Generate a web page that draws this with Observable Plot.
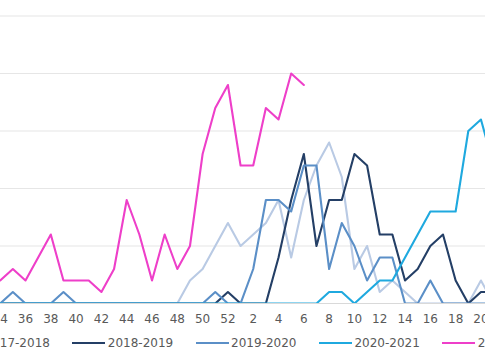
<!DOCTYPE html>
<html>
<head>
<meta charset="utf-8">
<script src="https://cdn.jsdelivr.net/npm/d3@7"></script>
<script src="https://cdn.jsdelivr.net/npm/@observablehq/plot@0.6"></script>
<style>
  html, body { margin: 0; padding: 0; background: #fff; }
  #wrap { position: relative; width: 485px; height: 360px; overflow: hidden; font-family: "DejaVu Sans", sans-serif; }
  #chart svg { display: block; }
  .sw { position: absolute; height: 2px; width: 33px; top: 342px; }
  .lt { position: absolute; top: 336px; font-size: 12px; line-height: 14px; color: #595959; white-space: nowrap; }
</style>
</head>
<body>
<div id="wrap">
  <div id="chart"></div>
  <div id="legend"></div>
</div>
<script>
// Week numbers along the x axis (one entry per data point)
const weeks = [34,35,36,37,38,39,40,41,42,43,44,45,46,47,48,49,50,51,52,1,2,3,4,5,6,7,8,9,10,11,12,13,14,15,16,17,18,19,20,21];

const seasons = ["2017-2018", "2018-2019", "2019-2020", "2020-2021", "2021-2022"];
const colors  = ["#b9cae4", "#243f66", "#5b8fc7", "#1fa9df", "#ee3fc9"];

const s2017 = [0,0,0,0,0,0,0,0,0,0,0,0,0,0,0,2,3,5,7,5,6,7,9,4,9,12,14,11,3,5,1,2,1,0,0,0,0,0,2,0];
const s2018 = [0,0,0,0,0,0,0,0,0,0,0,0,0,0,0,0,0,0,1,0,0,0,4,9,13,5,9,9,13,12,6,6,2,3,5,6,2,0,1,1];
const s2019 = [0,1,0,0,0,1,0,0,0,0,0,0,0,0,0,0,0,1,0,0,3,9,9,8,12,12,3,7,5,2,4,4,0,0,2,0,0,0,0,0];
const s2020 = [0,0,0,0,0,0,0,0,0,0,0,0,0,0,0,0,0,0,0,0,0,0,0,0,0,0,1,1,0,1,2,2,4,6,8,8,8,15,16,12];
const s2021 = [2,3,2,4,6,2,2,2,1,3,9,6,2,6,3,5,13,17,19,12,12,17,16,20,19];

const yGrid = [5, 10, 15, 20, 25];

const seriesList = [s2017, s2018, s2019, s2020, s2021];
const rows = [];
seriesList.forEach((arr, k) => arr.forEach((v, i) => rows.push({season: seasons[k], i, v})));

const tickIdx = weeks.map((w, i) => i).filter(i => weeks[i] % 2 === 0);

const plot = Plot.plot({
  width: 485,
  height: 330,
  marginLeft: 0,
  marginRight: 0,
  marginTop: 15.5,
  marginBottom: 27,
  style: {fontFamily: "DejaVu Sans, sans-serif", fontSize: "12px", background: "transparent"},
  x: {domain: [0, 38.36], range: [-0.3, 485], axis: null, label: null},
  y: {domain: [0, 25], axis: null, label: null},
  color: {domain: seasons, range: colors},
  marks: [
    Plot.ruleY(yGrid, {stroke: "#e6e6e6", strokeWidth: 1.2}),
    Plot.ruleY([0], {stroke: "#d9d9d9"}),
    Plot.line(rows, {x: "i", y: "v", z: "season", stroke: "season", strokeWidth: 2.1, clip: true}),
    Plot.axisX(tickIdx, {tickSize: 0, tickPadding: 11, label: null, tickFormat: i => String(weeks[i]), fill: "#595959", fontSize: 12})
  ]
});
document.getElementById("chart").appendChild(plot);

// Legend (line swatches)
const legend = document.getElementById("legend");
seasons.forEach((s, k) => {
  const left = -51 + 123.3 * k;
  const sw = document.createElement("div");
  sw.className = "sw";
  sw.style.left = left + "px";
  sw.style.background = colors[k];
  legend.appendChild(sw);
  const t = document.createElement("div");
  t.className = "lt";
  t.style.left = (left + 35.5) + "px";
  t.textContent = s;
  legend.appendChild(t);
});
</script>
</body>
</html>
